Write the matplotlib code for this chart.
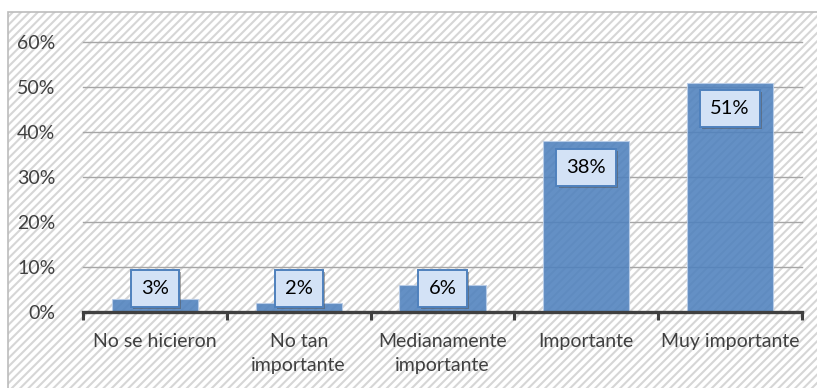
import matplotlib
matplotlib.use("Agg")
import matplotlib.pyplot as plt
import matplotlib.patheffects as pe
from matplotlib.patches import Rectangle
import numpy as np

categories = ["No se hicieron", "No tan\nimportante", "Medianamente\nimportante",
              "Importante", "Muy importante"]
values = [3, 2, 6, 38, 51]
yticks = [0, 10, 20, 30, 40, 50, 60]

plt.rcParams['font.family'] = ['Lato', 'DejaVu Sans']
plt.rcParams['hatch.linewidth'] = 1.5

W, H = 817, 388
fig = plt.figure(figsize=(W / 100, H / 100), dpi=100)
fig.patch.set_facecolor("white")

# hatched chart area background
bg = Rectangle((8 / W, 0), 1, 1 - 12 / H, transform=fig.transFigure,
               facecolor="white", edgecolor="#d6d6d6", hatch="////",
               linewidth=0, zorder=-10)
fig.patches.append(bg)
border = Rectangle((8 / W, -0.01), 1, 1 - 12 / H + 0.01, transform=fig.transFigure,
                   facecolor="none", edgecolor="#bcbcbc", linewidth=1.2, zorder=-9)
fig.patches.append(border)

ax = fig.add_axes([83 / W, 1 - 312 / H, (802 - 83) / W, (312 - 42) / H])
ax.set_facecolor("none")

x = np.arange(len(values))
ax.bar(x, values, width=0.6, color="#4f81bd", alpha=0.88,
       edgecolor="#b9cde8", linewidth=0.8, zorder=2)

ax.set_xlim(-0.5, len(values) - 0.5)
ax.set_ylim(0, 60)
ax.set_yticks(yticks)
ax.set_yticklabels([f"{t}%" for t in yticks])
for t in yticks[1:]:
    ax.axhline(t, color="#a6a6a6", linewidth=1.0, zorder=1, clip_on=False)

for s in ["top", "right", "left"]:
    ax.spines[s].set_visible(False)
ax.spines["bottom"].set_color("#404040")
ax.spines["bottom"].set_linewidth(2.4)
ax.spines["bottom"].set_zorder(3)

ax.set_xticks(x)
ax.set_xticklabels(categories, linespacing=1.5)
ax.set_xticks(np.arange(len(values) + 1) - 0.5, minor=True)
ax.tick_params(axis="x", which="major", length=0, pad=15, labelsize=14,
               labelcolor="#404040")
ax.tick_params(axis="x", which="minor", length=6, width=2.2, color="#404040",
               direction="out")
ax.tick_params(axis="y", length=0, pad=20, labelsize=14, labelcolor="#404040")

for xi, v in zip(x, values):
    ly = max(v - 5.8, 5.2)
    t = ax.text(xi, ly, f"{v}%", ha="center", va="center", fontsize=14.5,
                color="black", zorder=5,
                bbox=dict(boxstyle="square,pad=0.5", facecolor="#d3e2f6",
                          edgecolor="#4f81bd", linewidth=1.4))
    t.get_bbox_patch().set_path_effects(
        [pe.withSimplePatchShadow(offset=(1.5, -1.5), shadow_rgbFace="#555555", alpha=0.5)])

fig.savefig("out.png", dpi=100)
